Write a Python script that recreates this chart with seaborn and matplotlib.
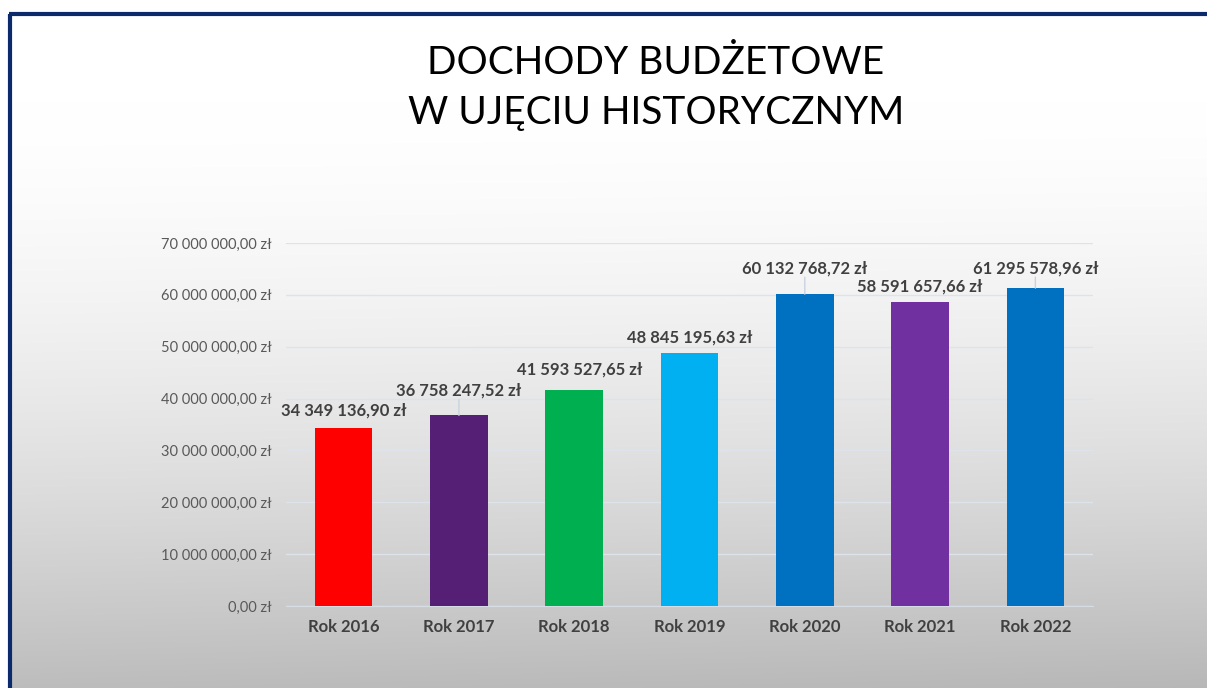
import numpy as np
import pandas as pd
import matplotlib
matplotlib.use("Agg")
import matplotlib.pyplot as plt
import seaborn as sns

# dane
lata = ["Rok 2016", "Rok 2017", "Rok 2018", "Rok 2019", "Rok 2020", "Rok 2021", "Rok 2022"]
dochody = [34349136.90, 36758247.52, 41593527.65, 48845195.63, 60132768.72, 58591657.66, 61295578.96]
kolory = ["#FF0000", "#541F74", "#00B050", "#00B0F0", "#0070C0", "#7030A0", "#0070C0"]
y_ticks = [0, 10e6, 20e6, 30e6, 40e6, 50e6, 60e6, 70e6]

# przesuniecia etykiet w pikselach (dx, dy) i czy z linia
etykiety_off = [(0, 17), (0, 25), (5, 21), (0, 15), (0, 26), (0, 16), (0, 20)]
linie = [False, True, False, False, True, False, True]


def zl(v):
    s = f"{v:,.2f}".replace(",", " ").replace(".", ",")
    return s + " zł"


sns.set_style("white")
plt.rcParams["font.family"] = ["Lato", "DejaVu Sans"]

W, H = 1207, 688
fig = plt.figure(figsize=(W / 100, H / 100), dpi=100)

# tlo z gradientem
bg = fig.add_axes([0, 0, 1, 1], zorder=-10)
yy, xx = np.mgrid[0:1:300j, 0:1:300j]
t = np.clip((yy - 0.15) / 0.85, 0, 1)
val = 1 - 0.26 * t ** 1.6 - 0.02 * xx * t
img = np.dstack([val, val, val])
bg.imshow(img, extent=[0, 1, 0, 1], origin="upper", aspect="auto")
bg.add_patch(plt.Rectangle((0, 1 - 13 / H), 1, 13 / H, color="white", zorder=2))
bg.add_patch(plt.Rectangle((0, 0), 8 / W, 1, color="white", zorder=2))
bg.plot([9 / W, 1], [1 - 13.5 / H, 1 - 13.5 / H], color="#0B2A6B", lw=3, zorder=3, solid_capstyle="butt")
bg.plot([9.5 / W, 9.5 / W], [0, 1 - 13.5 / H], color="#0B2A6B", lw=3, zorder=3, solid_capstyle="butt")
bg.set_xlim(0, 1)
bg.set_ylim(0, 1)
bg.axis("off")

fig.text(656 / W, 1 - 63 / H, "DOCHODY BUDŻETOWE", ha="center", va="center", fontsize=28, color="black")
fig.text(656 / W, 1 - 113 / H, "W UJĘCIU HISTORYCZNYM", ha="center", va="center", fontsize=28, color="black")

# wykres
ax = fig.add_axes([286 / W, (H - 606) / H, (1093 - 286) / W, (606 - 243) / H])
ax.patch.set_alpha(0)
df = pd.DataFrame({"rok": lata, "kwota": dochody})
sns.barplot(data=df, x="rok", y="kwota", hue="rok", palette=kolory, width=0.5,
            legend=False, ax=ax, zorder=3, saturation=1, edgecolor="none", linewidth=0)
ax.set_ylim(0, 70e6)
ax.set_yticks(y_ticks)
ax.set_yticklabels([zl(v) for v in y_ticks], fontsize=10.5, color="#595959")
ax.set_xticks(range(len(lata)))
ax.set_xticklabels(lata, fontsize=12, fontweight="bold", color="#404040")
ax.set_xlabel("")
ax.set_ylabel("")
ax.grid(axis="y", color="#DDE3EA", lw=1, zorder=0)
for s in ["top", "right", "left"]:
    ax.spines[s].set_visible(False)
ax.spines["bottom"].set_color("#D5DCE4")
ax.tick_params(axis="y", length=0, pad=10)
ax.tick_params(axis="x", length=0, pad=9)

for i, v in enumerate(dochody):
    dx, dy = etykiety_off[i]
    ax.annotate(zl(v), xy=(i, v), xytext=(dx, dy), textcoords="offset pixels",
                ha="center", va="center", fontsize=12, fontweight="bold", color="#404040",
                annotation_clip=False)
    if linie[i]:
        ax.annotate("", xy=(i, v), xytext=(0, dy - 9), textcoords="offset pixels",
                    arrowprops=dict(arrowstyle="-", color="#C9D3E0", lw=1, shrinkA=0, shrinkB=0))

fig.savefig("out.png", dpi=100)
